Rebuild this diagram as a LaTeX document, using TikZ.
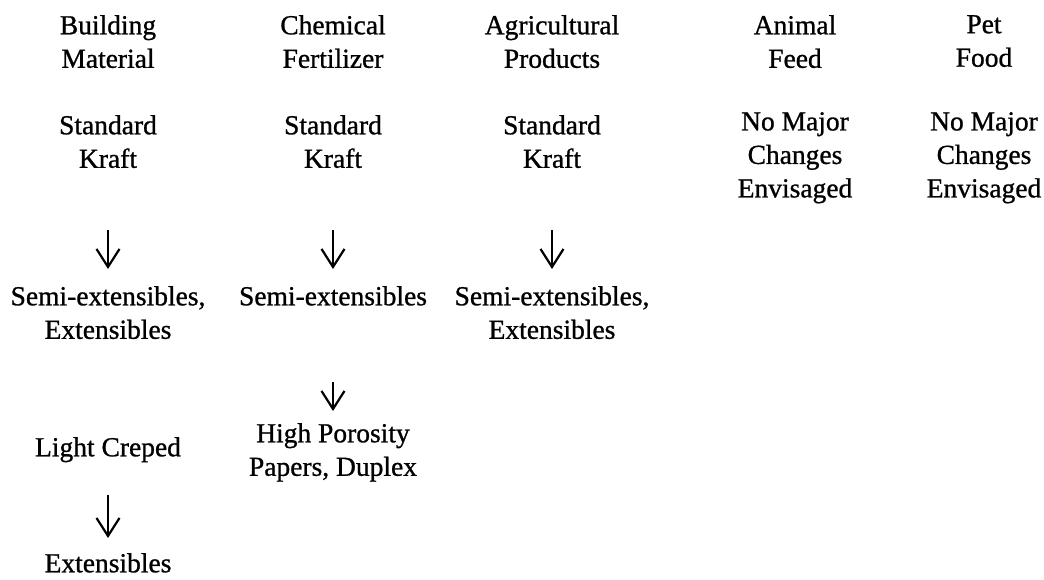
\documentclass[tikz,border=0pt]{standalone}
\usepackage{fontspec}
\setmainfont[FakeBold=0.9]{Liberation Serif}
\usetikzlibrary{arrows.meta}
\begin{document}
\begin{tikzpicture}[x=1pt,y=-1pt,
  lbl/.style={inner sep=0pt, align=center, anchor=north,
    font=\fontsize{27.5}{33.5}\selectfont},
  arr/.style={line width=2.2pt, -{Straight Barb[length=18pt,width=23pt,line width=2.2pt]}}]
\useasboundingbox[fill=white] (0,0) rectangle (1044,580);
% titles (y = top of first line)
\node[lbl] (t1) at (108,15) {Building\\Material};
\node[lbl] (t2) at (333,15) {Chemical\\Fertilizer};
\node[lbl] (t3) at (552,15) {Agricultural\\Products};
\node[lbl] (t4) at (795,15) {Animal\\Feed};
\node[lbl] (t5) at (984,15) {Pet\\Food};
% second row
\node[lbl] (k1) at (108,115) {Standard\\Kraft};
\node[lbl] (k2) at (333,115) {Standard\\Kraft};
\node[lbl] (k3) at (552,115) {Standard\\Kraft};
\node[lbl] (n4) at (795,112) {No Major\\Changes\\Envisaged};
\node[lbl] (n5) at (984,112) {No Major\\Changes\\Envisaged};
% third row
\node[lbl] (s1) at (108,286) {Semi-extensibles,\\Extensibles};
\node[lbl] (s2) at (333,286) {Semi-extensibles};
\node[lbl] (s3) at (552,286) {Semi-extensibles,\\Extensibles};
% lower rows
\node[lbl] (h2) at (333,423) {High Porosity\\Papers, Duplex};
\node[lbl] (c1) at (108,437) {Light Creped};
\node[lbl] (e1) at (108,553) {Extensibles};
% arrows
\draw[arr, shorten <=62pt, shorten >=17pt] (k1.south) -- (k1.south |- s1.north);
\draw[arr, shorten <=62pt, shorten >=17pt] (k2.south) -- (k2.south |- s2.north);
\draw[arr, shorten <=62pt, shorten >=17pt] (k3.south) -- (k3.south |- s3.north);
\draw[arr, shorten <=76pt, shorten >=12pt] (s2.south) -- (s2.south |- h2.north);
\draw[arr, shorten <=33pt, shorten >=15pt] (c1.south) -- (c1.south |- e1.north);
\end{tikzpicture}
\end{document}
